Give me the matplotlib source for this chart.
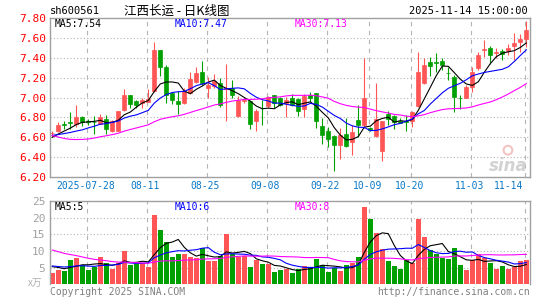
import numpy as np
import matplotlib
matplotlib.use("Agg")
import matplotlib.pyplot as plt
from matplotlib.transforms import blended_transform_factory

# daily candles 2025-07-18 .. 2025-11-14 (80 trading days)
opens = [6.64, 6.66, 6.735, 6.755, 6.733, 6.80, 6.76, 6.757, 6.733, 6.787,
         6.66, 6.667, 6.877, 7.027, 6.96, 6.943, 6.953, 7.067, 7.477, 7.31,
         7.043, 6.967, 6.943, 7.05, 7.16, 7.26, 7.10, 7.12, 7.143, 7.09,
         7.10, 6.81, 6.96, 6.967, 6.767, 6.897, 6.91, 7.027, 6.993, 6.943,
         6.993, 6.987, 6.887, 7.027, 7.043, 6.717, 6.66, 6.617, 6.527, 6.637,
         6.553, 6.777, 6.72, 6.693, 6.61, 6.46, 6.833, 6.81, 6.767, 6.763,
         6.76, 6.91, 7.143, 7.353, 7.353, 7.367, 7.247, 7.21, 7.00, 6.993,
         7.11, 7.293, 7.475, 7.50, 7.447, 7.467, 7.467, 7.52, 7.553, 7.587]
highs = [6.66, 6.75, 6.76, 6.85, 6.92, 6.81, 6.78, 6.81, 6.833, 6.827,
         6.77, 6.86, 7.087, 7.03, 6.977, 6.993, 7.087, 7.56, 7.48, 7.327,
         7.05, 7.067, 7.10, 7.26, 7.31, 7.367, 7.21, 7.233, 7.193, 7.333,
         7.177, 7.02, 6.99, 6.977, 6.887, 6.977, 7.017, 7.03, 7.01, 7.01,
         7.033, 6.99, 7.033, 7.06, 7.045, 6.793, 6.70, 6.62, 6.693, 6.793,
         6.727, 6.927, 7.40, 6.70, 7.143, 6.767, 6.86, 6.827, 6.793, 6.827,
         6.86, 7.46, 7.393, 7.41, 7.443, 7.40, 7.31, 7.227, 7.027, 7.127,
         7.31, 7.46, 7.577, 7.52, 7.50, 7.487, 7.533, 7.643, 7.633, 7.767]
lows = [6.60, 6.65, 6.68, 6.68, 6.70, 6.71, 6.72, 6.633, 6.73, 6.633,
        6.653, 6.66, 6.86, 6.893, 6.893, 6.893, 6.953, 7.06, 7.217, 6.943,
        6.93, 6.833, 6.933, 7.033, 7.143, 7.127, 7.00, 7.093, 6.90, 6.76,
        6.993, 6.80, 6.94, 6.68, 6.66, 6.727, 6.893, 6.893, 6.91, 6.80,
        6.91, 6.81, 6.80, 6.953, 6.693, 6.533, 6.50, 6.26, 6.387, 6.50,
        6.427, 6.60, 6.693, 6.66, 6.60, 6.36, 6.727, 6.68, 6.74, 6.667,
        6.70, 6.90, 7.133, 7.22, 7.253, 7.277, 7.177, 6.853, 6.887, 6.99,
        7.06, 7.28, 7.41, 7.333, 7.393, 7.377, 7.43, 7.377, 7.46, 7.51]
closes = [6.645, 6.727, 6.727, 6.745, 6.80, 6.753, 6.755, 6.75, 6.80, 6.683,
          6.767, 6.86, 7.027, 6.933, 6.927, 6.977, 6.987, 7.477, 7.31, 7.027,
          6.977, 6.933, 7.07, 7.187, 7.243, 7.143, 7.13, 7.167, 6.92, 7.10,
          7.027, 6.977, 6.975, 6.733, 6.86, 6.89, 7.01, 6.943, 6.927, 6.977,
          6.927, 6.867, 7.017, 6.993, 6.76, 6.62, 6.587, 6.527, 6.62, 6.517,
          6.65, 6.727, 7.00, 6.67, 6.787, 6.767, 6.787, 6.753, 6.743, 6.757,
          6.853, 7.253, 7.327, 7.32, 7.347, 7.327, 7.243, 7.01, 6.99, 7.11,
          7.253, 7.427, 7.483, 7.427, 7.453, 7.433, 7.493, 7.543, 7.587, 7.677]
volumes = [3.5, 4.3, 4.1, 7.4, 7.8, 5.7, 4.3, 5.2, 8.1, 6.3,
           4.6, 6.3, 9.9, 5.8, 6.3, 6.3, 5.3, 20.8, 16.3, 12.8,
           8.2, 9.2, 9.0, 8.1, 7.8, 10.8, 7.1, 7.1, 8.6, 15.1,
           9.0, 8.1, 8.6, 5.3, 7.3, 6.0, 6.0, 3.8, 4.3, 4.7,
           3.3, 4.5, 5.5, 5.2, 7.5, 5.9, 3.8, 4.9, 4.0, 5.9,
           6.4, 8.3, 23.3, 19.6, 15.5, 10.5, 7.1, 5.5, 4.7, 7.4,
           6.3, 19.6, 14.3, 10.3, 9.0, 8.0, 7.6, 11.0, 5.8, 4.3,
           7.3, 9.0, 8.0, 6.4, 4.7, 5.5, 4.7, 5.3, 6.9, 7.3]

# earlier days (off chart), estimated so the moving averages start where the picture shows
hist_close = [7.20, 7.15, 7.02, 6.85, 6.72, 6.62, 6.48, 6.40, 6.38, 6.42,
              6.45, 6.40, 6.43, 6.47, 6.50, 6.52, 6.55, 6.58, 6.60, 6.63,
              6.65, 6.62, 6.64, 6.66, 6.63, 6.56, 6.58, 6.60, 6.62]
hist_vol = [20, 19, 18, 17, 18, 16, 15, 14, 13, 12,
            11, 10, 9, 9, 8, 9, 8, 9, 10, 9,
            6.0, 5.5, 6.2, 5.8, 5.0, 5.5, 6.0, 5.5, 6.0]

tick_pos = [6, 16, 26, 36, 46, 53, 60, 70, 79]
tick_labels = ["2025-07-28", "08-11", "08-25", "09-08", "09-22",
               "10-09", "10-20", "11-03", "11-14"]
price_ticks = [6.20, 6.40, 6.60, 6.80, 7.00, 7.20, 7.40, 7.60, 7.80]
vol_ticks = [5, 10, 15, 20, 25]

RED = "#ff5555"
GREEN = "#00a000"
GRID = "#b4b4b4"
FRAME = "#a0a0a0"
MONO = "DejaVu Sans Mono"
CJK = ["Noto Sans CJK SC", "DejaVu Sans"]


def moving_avg(hist, vals, n):
    full = np.array(hist + vals, dtype=float)
    off = len(hist)
    return np.array([full[off + i - n + 1: off + i + 1].mean() for i in range(len(vals))])


W, H = 545, 300
fig = plt.figure(figsize=(W / 100, H / 100), dpi=100)


def px_axes(x0, y0, x1, y1):
    return fig.add_axes([x0 / W, 1 - y1 / H, (x1 - x0) / W, (y1 - y0) / H])


def ftxt(x, y, s, **kw):
    kw.setdefault("va", "center")
    fig.text(x / W, 1 - y / H, s, **kw)


x = np.arange(len(closes))
o = np.array(opens)
c = np.array(closes)
up = c >= o
cols = [RED if u else GREEN for u in up]
xlim = (-0.38, 79.53)

# ---- price panel ----
ax = px_axes(50, 17.7, 529.5, 177.3)
ax.set_xlim(*xlim)
ax.set_ylim(6.20, 7.80)
for lv in price_ticks[1:-1]:
    ax.axhline(lv, color=GRID, lw=0.8, ls=(0, (1, 2)), zorder=0)
for p in tick_pos:
    ax.axvline(p - 0.25, color=GRID, lw=0.8, ls=(0, (4, 4)), zorder=0)

ax.vlines(x, lows, highs, colors=cols, lw=0.8, zorder=2)
ax.bar(x, np.abs(c - o), bottom=np.minimum(o, c), width=0.68,
       color=cols, edgecolor=cols, linewidth=0.5, zorder=3)

ax.plot(x, moving_avg(hist_close, closes, 5), color="black", lw=0.8, zorder=4)
ax.plot(x, moving_avg(hist_close, closes, 10), color="#0000ff", lw=0.8, zorder=4)
ax.plot(x, moving_avg(hist_close, closes, 30), color="#ff00ff", lw=0.8, zorder=4)

ax.set_yticks(price_ticks)
ax.set_yticklabels([f"{v:.2f}" for v in price_ticks], color="#ff0000",
                   fontsize=8, family=MONO)
ax.tick_params(axis="y", length=0, pad=2.5)
ax.set_xticks([])
for s in ax.spines.values():
    s.set_color(FRAME)
    s.set_linewidth(1.0)

tr = blended_transform_factory(ax.transData, ax.transAxes)
for p, lab in zip(tick_pos, tick_labels):
    if p == tick_pos[-1]:
        ax.text(p - 0.55, -0.055, lab, transform=tr, ha="right", va="center",
                color="#0a78c8", fontsize=7, family=MONO)
    else:
        ax.text(p - 0.5, -0.055, lab, transform=tr, ha="center", va="center",
                color="#0a78c8", fontsize=7, family=MONO)

# sina watermark
ax.text(0.955, 0.07, "sina", transform=ax.transAxes, ha="center", va="center",
        color="#d2d2d2", fontsize=12, fontweight="bold", style="italic", zorder=1)
ax.scatter([0.955], [0.17], s=40, transform=ax.transAxes, facecolor="none",
           edgecolor="#f2c4c4", linewidth=1.5, zorder=1)

# ---- volume panel ----
axv = px_axes(50, 201, 529.5, 284.3)
axv.set_xlim(*xlim)
axv.set_ylim(0, 25)
for lv in vol_ticks[:-1]:
    axv.axhline(lv, color=GRID, lw=0.8, ls=(0, (1, 2)), zorder=0)
for p in tick_pos:
    axv.axvline(p - 0.25, color=GRID, lw=0.8, ls=(0, (4, 4)), zorder=0)
axv.bar(x, volumes, width=0.83, color=cols, linewidth=0, zorder=2)
axv.plot(x, moving_avg(hist_vol, volumes, 5), color="black", lw=0.8, zorder=4)
axv.plot(x, moving_avg(hist_vol, volumes, 10), color="#0000ff", lw=0.8, zorder=4)
axv.plot(x, moving_avg(hist_vol, volumes, 30), color="#ff00ff", lw=0.8, zorder=4)
axv.set_yticks(vol_ticks)
axv.set_yticklabels([str(v) for v in vol_ticks], color="#a0a0a0",
                    fontsize=8, family=MONO)
axv.tick_params(axis="y", length=0, pad=3.5)
axv.set_xticks([])
axv.spines["bottom"].set_visible(False)
for k in ("left", "right", "top"):
    axv.spines[k].set_color(FRAME)
    axv.spines[k].set_linewidth(1.0)

# ---- texts ----
ftxt(50, 11, "sh600561", ha="left", fontsize=7.5, family=MONO, color="black")
ftxt(177, 11, "江西长运 - 日K线图", ha="center", fontsize=9, family=CJK, color="black")
ftxt(528, 11, "2025-11-14 15:00:00", ha="right", fontsize=7.5, family=MONO, color="black")

ftxt(55, 24, "MA5:7.54", ha="left", fontsize=7, family=MONO, color="black")
ftxt(175, 24, "MA10:7.47", ha="left", fontsize=7, family=MONO, color="#0000ff")
ftxt(295, 24, "MA30:7.13", ha="left", fontsize=7, family=MONO, color="#ff00ff")

ftxt(55, 207, "MA5:5", ha="left", fontsize=7, family=MONO, color="black")
ftxt(175, 207, "MA10:6", ha="left", fontsize=7, family=MONO, color="#0000ff")
ftxt(295, 207, "MA30:8", ha="left", fontsize=7, family=MONO, color="#ff00ff")

ftxt(35, 283, "x万", ha="center", fontsize=7, family=CJK, color="#b0b0b0", style="italic")
ftxt(50, 292, "Copyright 2025 SINA.COM", ha="left", fontsize=7, family=MONO, color="#808080")
ftxt(530, 292, "http://finance.sina.com.cn", ha="right", fontsize=7, family=MONO, color="#808080")

fig.savefig("out.png", dpi=100)
